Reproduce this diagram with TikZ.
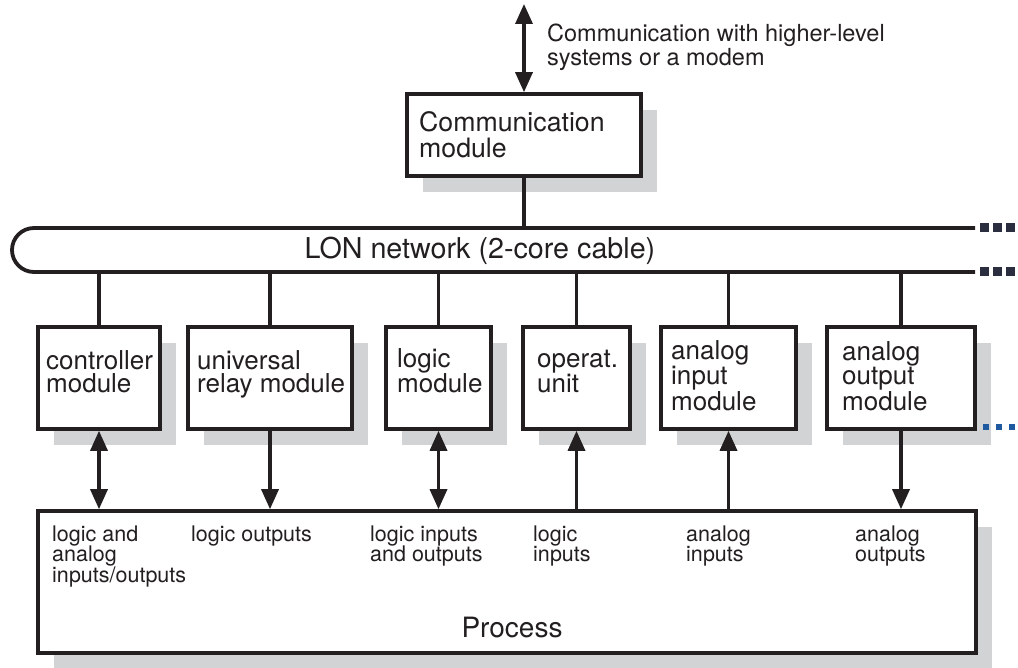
\documentclass[tikz,border=0pt]{standalone}
\usepackage{fontspec}
\setmainfont{TeX Gyre Heros}
\usetikzlibrary{arrows.meta,shadows}
\definecolor{ink}{HTML}{231F20}
\definecolor{shade}{HTML}{D1D3D4}
\definecolor{navy}{HTML}{2A2E3E}
\definecolor{dotblue}{HTML}{1F5AA0}
\newcommand\dgmod{\fontsize{26pt}{24pt}\selectfont}
\newcommand\dgcom{\fontsize{26.7pt}{25.5pt}\selectfont}
\newcommand\dgtop{\fontsize{23.5pt}{24pt}\selectfont}
\newcommand\dglon{\fontsize{28.7pt}{30pt}\selectfont}
\newcommand\dglab{\fontsize{21.5pt}{20.5pt}\selectfont}
\newcommand\dgproc{\fontsize{28pt}{30pt}\selectfont}
\tikzset{
  box/.style={draw=ink, line width=3.6pt, fill=white, inner sep=0pt,
    drop shadow={shadow xshift=16pt, shadow yshift=-16pt, fill=shade, opacity=1, draw=none}},
  conn/.style={draw=ink, line width=3.4pt},
  lonline/.style={draw=ink, line width=3.8pt},
  arrEnd/.style={-{Triangle[length=20pt,width=17pt]}},
  arrBoth/.style={{Triangle[length=20pt,width=17pt]}-{Triangle[length=20pt,width=17pt]}},
  txt/.style={inner sep=0pt, align=left, anchor=base west, text=ink},
}
\begin{document}
\begin{tikzpicture}[x=1pt,y=-1pt]
\useasboundingbox (0,0) rectangle (1018,668);

% communication module (text anchors are at the baseline of the last line)
\node[box, minimum width=234pt, minimum height=82pt] (comm) at (524,135) {};
\node[txt, font=\dgcom] (commtxt) at (419,157.5) {Communication\\module};
\coordinate (top) at (524,4);
\draw[conn, arrBoth] (top) -- (comm.north);
\node[txt, font=\dgtop] (toplbl) at (547,66) {Communication with higher-level\\systems or a modem};

% LON network
\coordinate (lontopL) at (34,228);
\coordinate (lontopR) at (975,228);
\coordinate (lonbotL) at (34,272);
\coordinate (lonbotR) at (975,272);
\draw[lonline] (lontopR) -- (lontopL) arc[start angle=90, end angle=270, radius=22pt] -- (lonbotR);
\draw[conn] (comm.south) -- (comm.south |- lontopR);
\node[font=\dglon, inner sep=0pt, anchor=base, text=ink] (lon) at (480,259) {LON network (2-core cable)};
\foreach \x in {984.5,997.5,1010.5} {
  \fill[navy] (\x-4.5,223.5) rectangle (\x+4.5,232.5);
  \fill[navy] (\x-4.5,267.5) rectangle (\x+4.5,276.5);
}

% modules
\node[box, minimum width=122pt, minimum height=102pt] (m1) at (99,378) {};
\node[box, minimum width=164pt, minimum height=102pt] (m2) at (270,378) {};
\node[box, minimum width=105pt, minimum height=102pt] (m3) at (438.5,378) {};
\node[box, minimum width=107pt, minimum height=102pt] (m4) at (576.5,378) {};
\node[box, minimum width=135pt, minimum height=102pt] (m5) at (728.5,378) {};
\node[box, minimum width=148pt, minimum height=102pt] (m6) at (901,378) {};

\node[txt, font=\dgmod] (t1) at (46,393) {controller\\module};
\node[txt, font=\dgmod] (t2) at (197,393) {universal\\relay module};
\node[txt, font=\dgmod] (t3) at (397,393) {logic\\module};
\node[txt, font=\dgmod] (t4) at (537,393) {operat.\\unit};
\node[txt, font=\dgmod] (t5) at (671,410) {analog\\input\\module};
\node[txt, font=\dgmod] (t6) at (842,410) {analog\\output\\module};

\foreach \m in {m1,m2,m3,m4,m5,m6}
  \draw[conn] (\m.north) -- (\m.north |- lonbotR);

\foreach \x in {985.5,998.5,1011.5}
  \fill[dotblue] (\x-3,424) rectangle (\x+3,430);

% process
\node[box, minimum width=938pt, minimum height=142pt] (proc) at (507,582) {};
\node[font=\dgproc, inner sep=0pt, anchor=base, text=ink] (proctxt) at (512,637) {Process};

\draw[conn, arrBoth] (m1.south) -- (m1.south |- proc.north);
\draw[conn, arrEnd] (m2.south) -- (m2.south |- proc.north);
\draw[conn, arrBoth] (m3.south) -- (m3.south |- proc.north);
\draw[conn, arrEnd] (m4.south |- proc.north) -- (m4.south);
\draw[conn, arrEnd] (m5.south |- proc.north) -- (m5.south);
\draw[conn, arrEnd] (m6.south) -- (m6.south |- proc.north);

\node[txt, font=\dglab] (l1) at (52,582) {logic and\\analog\\inputs/outputs};
\node[txt, font=\dglab] (l2) at (191,541) {logic outputs};
\node[txt, font=\dglab] (l3) at (370,561.5) {logic inputs\\and outputs};
\node[txt, font=\dglab] (l4) at (533,561.5) {logic\\inputs};
\node[txt, font=\dglab] (l5) at (686,561.5) {analog\\inputs};
\node[txt, font=\dglab] (l6) at (855,561.5) {analog\\outputs};
\end{tikzpicture}
\end{document}
